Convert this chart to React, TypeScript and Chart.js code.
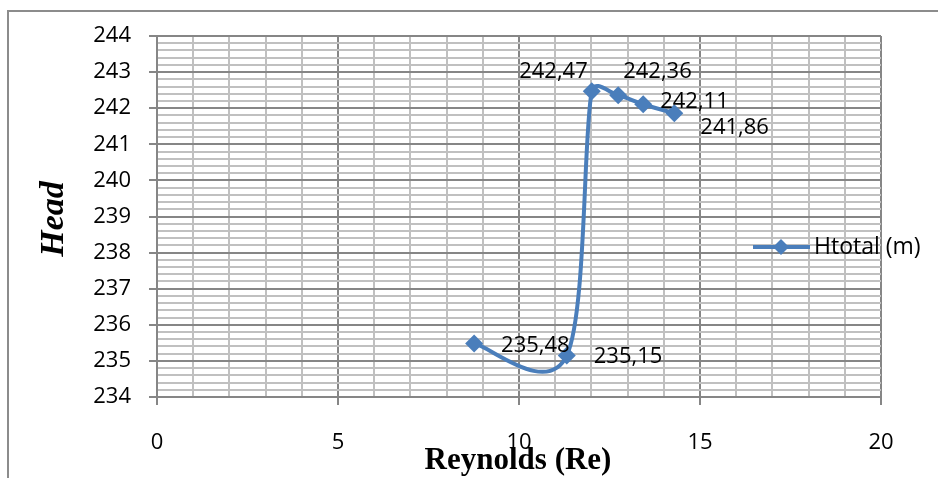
import React, { useEffect, useRef } from 'react';
import { Chart, registerables } from 'chart.js';

Chart.register(...registerables);

// ---- data ----
const reynolds = [8.76, 11.32, 12.01, 12.74, 13.43, 14.29];
const headTotal = [235.48, 235.15, 242.47, 242.36, 242.11, 241.86];
const pointLabels = ['235,48', '235,15', '242,47', '242,36', '242,11', '241,86'];
const seriesName = 'Htotal (m)';
const xTitle = 'Reynolds (Re)';
const yTitle = 'Head';
const xMin = 0;
const xMax = 20;
const xMajorStep = 5;
const xMinorStep = 1;
const yMin = 234;
const yMax = 244;
const yMajorStep = 1;
const yMinorStep = 0.2;

// ---- styles ----
const SERIES_COLOR = '#4a7ebb';
const MAJOR_GRID = '#868686';
const MINOR_GRID = '#c0c0c0';
const FONT_FAMILY = '"Open Sans", sans-serif';
const labelPlacement = [
  { align: 'left', dx: 27, dy: 2 },
  { align: 'left', dx: 27, dy: 1 },
  { align: 'right', dx: -4, dy: -19 },
  { align: 'left', dx: 5, dy: -23 },
  { align: 'left', dx: 17, dy: -2 },
  { align: 'left', dx: 26, dy: 14 },
];

const isMultiple = (v: number, step: number) => {
  const r = v / step;
  return Math.abs(r - Math.round(r)) < 1e-6;
};

// Excel-like smoothing of the line through the library's point elements
function excelControlPoints(points: any[]) {
  const n = points.length;
  const T = points.map((p, i) => {
    const a = points[Math.max(0, i - 1)];
    const b = points[Math.min(n - 1, i + 1)];
    return { x: (b.x - a.x) / 6, y: (b.y - a.y) / 6 };
  });
  points.forEach((p, i) => {
    const t = T[i];
    const tl = Math.hypot(t.x, t.y) || 1;
    const prev = points[i - 1];
    const next = points[i + 1];
    const sPrev = prev ? Math.min(1, (0.5 * Math.hypot(p.x - prev.x, p.y - prev.y)) / tl) : 0;
    const sNext = next ? Math.min(1, (0.5 * Math.hypot(next.x - p.x, next.y - p.y)) / tl) : 0;
    p.cp1x = p.x - t.x * sPrev;
    p.cp1y = p.y - t.y * sPrev;
    p.cp2x = p.x + t.x * sNext;
    p.cp2y = p.y + t.y * sNext;
  });
}

const smoothPlugin = {
  id: 'excelSmooth',
  afterDatasetsUpdate(chart: any) {
    const meta = chart.getDatasetMeta(0);
    const line = meta.dataset;
    if (!line) return;
    line.updateControlPoints = function () {
      excelControlPoints(this.points || []);
      this._pointsUpdated = true;
    };
    excelControlPoints(line.points || meta.data);
    line._pointsUpdated = true;
  },
  beforeDatasetsDraw(chart: any) {
    const meta = chart.getDatasetMeta(0);
    excelControlPoints(meta.data);
    if (meta.dataset) meta.dataset._pointsUpdated = true;
  },
};

const decorPlugin = {
  id: 'decor',
  beforeDraw(chart: any) {
    const ctx = chart.ctx;
    ctx.save();
    ctx.fillStyle = '#ffffff';
    ctx.fillRect(0, 0, chart.width, chart.height);
    ctx.fillStyle = '#8c8c8c';
    ctx.fillRect(7, 10, chart.width - 7, 2);
    ctx.fillRect(7, 10, 2, chart.height - 10);
    ctx.restore();
  },
  afterDatasetsDraw(chart: any) {
    const ctx = chart.ctx;
    const meta = chart.getDatasetMeta(0);
    ctx.save();
    ctx.font = `22px ${FONT_FAMILY}`;
    ctx.fillStyle = '#000000';
    ctx.textBaseline = 'middle';
    meta.data.forEach((pt: any, i: number) => {
      const p = labelPlacement[i];
      ctx.textAlign = p.align;
      ctx.fillText(pointLabels[i], pt.x + p.dx, pt.y + p.dy);
    });

    // legend
    const ly = 247;
    ctx.strokeStyle = SERIES_COLOR;
    ctx.lineWidth = 4;
    ctx.beginPath();
    ctx.moveTo(753, ly);
    ctx.lineTo(810, ly);
    ctx.stroke();
    ctx.fillStyle = SERIES_COLOR;
    ctx.beginPath();
    ctx.moveTo(781 - 8, ly);
    ctx.lineTo(781, ly - 8);
    ctx.lineTo(781 + 8, ly);
    ctx.lineTo(781, ly + 8);
    ctx.closePath();
    ctx.fill();
    ctx.fillStyle = '#000000';
    ctx.textAlign = 'left';
    ctx.font = `23px ${FONT_FAMILY}`;
    ctx.fillText(seriesName, 814, ly);

    // axis titles
    ctx.font = `bold 31px "Liberation Serif", "Times New Roman", serif`;
    ctx.textAlign = 'center';
    ctx.fillText(xTitle, 518, 461);
    ctx.save();
    ctx.translate(54, 219);
    ctx.rotate(-Math.PI / 2);
    ctx.font = `bold italic 34px "Liberation Serif", "Times New Roman", serif`;
    ctx.fillText(yTitle, 0, 0);
    ctx.restore();
    ctx.restore();
  },
};

export default function App() {
  const ref = useRef<HTMLCanvasElement | null>(null);
  useEffect(() => {
    if (!ref.current) return;
    const chart = new Chart(ref.current, {
      type: 'scatter',
      data: {
        datasets: [
          {
            label: seriesName,
            data: reynolds.map((x, i) => ({ x, y: headTotal[i] })),
            showLine: true,
            borderColor: SERIES_COLOR,
            borderWidth: 4,
            backgroundColor: SERIES_COLOR,
            pointStyle: 'rectRot',
            pointRadius: 9,
            pointBorderWidth: 0,
            pointBackgroundColor: SERIES_COLOR,
            tension: 0.4,
          } as any,
        ],
      },
      options: {
        animation: false,
        responsive: false,
        devicePixelRatio: 1,
        layout: { padding: { left: 0, top: 36, right: 57, bottom: 0 } },
        plugins: { legend: { display: false }, tooltip: { enabled: false } },
        scales: {
          x: {
            type: 'linear',
            min: xMin,
            max: xMax,
            afterFit: (s: any) => {
              s.height = 81;
            },
            ticks: {
              stepSize: xMinorStep,
              autoSkip: false,
              maxRotation: 0,
              padding: 25,
              color: '#000000',
              font: { family: FONT_FAMILY, size: 22 },
              callback: (v: any) => (isMultiple(Number(v), xMajorStep) ? String(Math.round(Number(v))) : ''),
            },
            grid: {
              color: (c: any) => (c.tick && isMultiple(c.tick.value, xMajorStep) ? MAJOR_GRID : MINOR_GRID),
              lineWidth: 2,
              tickLength: 8,
              tickWidth: 2,
              tickColor: (c: any) => (c.tick && isMultiple(c.tick.value, xMajorStep) ? MAJOR_GRID : 'rgba(0,0,0,0)'),
            },
            border: { color: MAJOR_GRID, width: 2 },
          },
          y: {
            type: 'linear',
            min: yMin,
            max: yMax,
            afterFit: (s: any) => {
              s.width = 157;
            },
            ticks: {
              stepSize: yMinorStep,
              autoSkip: false,
              padding: 18,
              color: '#000000',
              font: { family: FONT_FAMILY, size: 22 },
              callback: (v: any) => (isMultiple(Number(v), yMajorStep) ? String(Math.round(Number(v))) : ''),
            },
            grid: {
              color: (c: any) => (c.tick && isMultiple(c.tick.value, yMajorStep) ? MAJOR_GRID : MINOR_GRID),
              lineWidth: 2,
              tickLength: 8,
              tickWidth: 2,
              tickColor: (c: any) => (c.tick && isMultiple(c.tick.value, yMajorStep) ? MAJOR_GRID : 'rgba(0,0,0,0)'),
            },
            border: { color: MAJOR_GRID, width: 2 },
          },
        },
      },
      plugins: [smoothPlugin, decorPlugin],
    } as any);
    return () => chart.destroy();
  }, []);
  return (
    <div style={{ position: 'fixed', left: 0, top: 0, width: 938, height: 478, background: '#fff' }}>
      <canvas ref={ref} width={938} height={478} style={{ display: 'block', width: 938, height: 478 }} />
    </div>
  );
}
